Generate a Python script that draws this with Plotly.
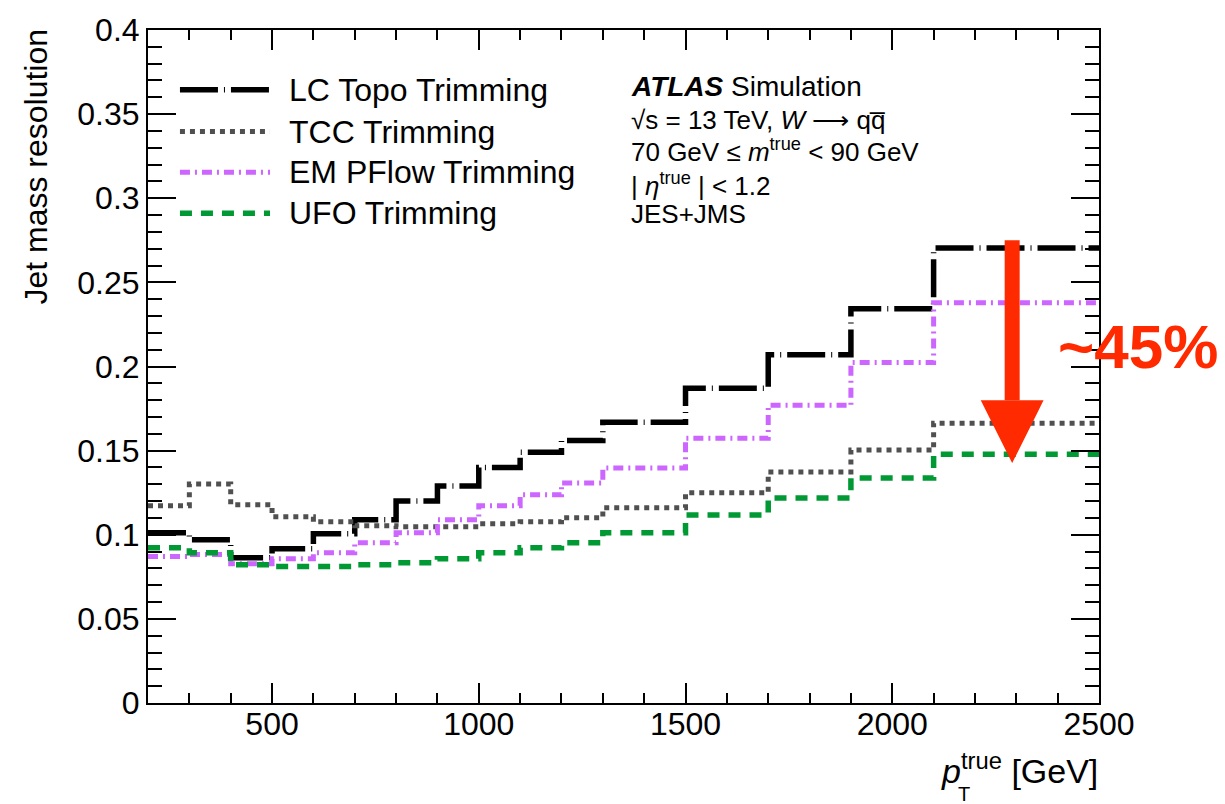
import plotly.graph_objects as go

# Bin edges in true jet pT [GeV]
pt_edges = [200, 300, 400, 500, 600, 700, 800, 900, 1000, 1100, 1200, 1300,
            1500, 1700, 1900, 2100, 2500]

# Jet mass resolution per pT bin
lc_topo = [0.1012, 0.0970, 0.0864, 0.0917, 0.1006, 0.1089, 0.1201, 0.1290,
           0.1400, 0.1490, 0.1560, 0.1669, 0.1870, 0.2070, 0.2343, 0.2704]
tcc = [0.1172, 0.1302, 0.1178, 0.1107, 0.1077, 0.1053, 0.1047, 0.1047,
       0.1065, 0.1077, 0.1101, 0.1160, 0.1249, 0.1373, 0.1503, 0.1663]
em_pflow = [0.0870, 0.0882, 0.0828, 0.0858, 0.0893, 0.0953, 0.1012, 0.1089,
            0.1172, 0.1237, 0.1308, 0.1396, 0.1574, 0.1769, 0.2024, 0.2379]
ufo = [0.0923, 0.0893, 0.0822, 0.0811, 0.0811, 0.0822, 0.0834, 0.0858,
       0.0893, 0.0923, 0.0953, 0.1012, 0.1118, 0.1219, 0.1337, 0.1479]

series_names = ["LC Topo Trimming", "TCC Trimming", "EM PFlow Trimming", "UFO Trimming"]
series_values = [lc_topo, tcc, em_pflow, ufo]
series_colors = ["#000000", "#505050", "#cc66ff", "#009933"]
series_dash = ["38px,6px,1px,6px", "5px,5px", "10px,5px,2px,5px", "12px,9px"]
series_width = [5.5, 5, 5, 5.5]

y_ticks = [0, 0.05, 0.1, 0.15, 0.2, 0.25, 0.3, 0.35, 0.4]
y_tick_text = ["0", "0.05", "0.1", "0.15", "0.2", "0.25", "0.3", "0.35", "0.4"]
x_ticks = [500, 1000, 1500, 2000, 2500]

# Improvement arrow (LC Topo -> UFO in the last bin)
arrow_x = 2290
arrow_top = 0.2751
arrow_head_base = 0.1799
arrow_tip = 0.1426
arrow_half_width = 76
arrow_color = "#ff2a00"

FONT = "Liberation Sans, Arial, Helvetica, sans-serif"

fig = go.Figure()

for name, vals, col, dash, w in zip(series_names, series_values, series_colors,
                                    series_dash, series_width):
    fig.add_trace(go.Scatter(
        x=pt_edges, y=vals + [vals[-1]], mode="lines", name=name,
        line=dict(shape="hv", color=col, dash=dash, width=w),
        showlegend=False, hoverinfo="skip",
    ))

shapes = []
annotations = []

# Legend block drawn in paper coordinates
legend_rows_y = [0.9112, 0.8491, 0.7885, 0.7278]
for name, col, dash, w, ly in zip(series_names, series_colors, series_dash,
                                  series_width, legend_rows_y):
    shapes.append(dict(type="line", xref="paper", yref="paper",
                       x0=0.0336, x1=0.1283, y0=ly, y1=ly,
                       line=dict(color=col, dash=dash, width=w)))
    annotations.append(dict(text=name, xref="paper", yref="paper",
                            x=0.146, y=ly, xanchor="left", yanchor="middle",
                            showarrow=False,
                            font=dict(family=FONT, size=32, color="black")))

# Arrow: shaft plus triangular head
shapes.append(dict(type="line", xref="x", yref="y",
                   x0=arrow_x, x1=arrow_x, y0=arrow_top, y1=arrow_head_base,
                   line=dict(color=arrow_color, width=15)))
shapes.append(dict(type="path", xref="x", yref="y",
                   path=(f"M {arrow_x - arrow_half_width},{arrow_head_base} "
                         f"L {arrow_x + arrow_half_width},{arrow_head_base} "
                         f"L {arrow_x},{arrow_tip} Z"),
                   fillcolor=arrow_color, line=dict(width=0)))

annotations.append(dict(text="<b>~45%</b>", xref="paper", yref="paper",
                        x=1.041, y=0.5296, xanchor="center", yanchor="middle",
                        showarrow=False,
                        font=dict(family=FONT, size=62, color=arrow_color)))

# ATLAS label block
atlas_lines = [
    ("<b><i>ATLAS</i></b> Simulation", 28, 0.9157),
    ("√s = 13 TeV, <i>W</i> ⟶ qq\u0305", 26, 0.8669),
    ("70 GeV ≤ <i>m</i><sup>true</sup> < 90 GeV", 26, 0.8210),
    ("| <i>η</i><sup>true</sup> | < 1.2", 26, 0.7707),
    ("JES+JMS", 26, 0.7263),
]
for txt, size, ly in atlas_lines:
    annotations.append(dict(text=txt, xref="paper", yref="paper",
                            x=0.5058, y=ly, xanchor="left", yanchor="middle",
                            showarrow=False,
                            font=dict(family=FONT, size=size, color="black")))

# Axis titles
annotations.append(dict(text="Jet mass resolution", xref="paper", yref="paper",
                        x=-0.1178, y=1.005, xanchor="center", yanchor="top",
                        textangle=-90, showarrow=False,
                        font=dict(family=FONT, size=32, color="black")))
annotations.append(dict(text="<i>p</i><sup>true</sup> [GeV]", xref="paper", yref="paper",
                        x=1.001, y=-0.097, xanchor="right", yanchor="middle",
                        showarrow=False,
                        font=dict(family=FONT, size=34, color="black")))
annotations.append(dict(text="T", xref="paper", yref="paper",
                        x=0.858, y=-0.1345, xanchor="center", yanchor="middle",
                        showarrow=False,
                        font=dict(family=FONT, size=20, color="black")))

axis_common = dict(showline=True, linecolor="black", linewidth=2, mirror="ticks",
                   ticks="inside", tickcolor="black", tickwidth=2,
                   showgrid=False, zeroline=False,
                   tickfont=dict(family=FONT, size=32, color="black"))

fig.update_layout(
    width=1225, height=804,
    margin=dict(l=148, r=126, t=27, b=101),
    paper_bgcolor="white", plot_bgcolor="white",
    shapes=shapes, annotations=annotations,
    xaxis=dict(range=[200, 2500], tickvals=x_ticks, ticklen=20,
               ticklabelstandoff=-8,
               minor=dict(ticks="inside", dtick=100, ticklen=10,
                          tickwidth=2, tickcolor="black", showgrid=False),
               **axis_common),
    yaxis=dict(range=[0, 0.4], tickvals=y_ticks, ticktext=y_tick_text, ticklen=28,
               minor=dict(ticks="inside", dtick=0.01, ticklen=14,
                          tickwidth=2, tickcolor="black", showgrid=False),
               **axis_common),
)

fig.write_html("out.html")
